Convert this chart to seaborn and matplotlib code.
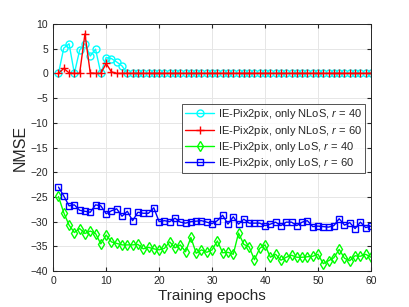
import numpy as np
import pandas as pd
import matplotlib
matplotlib.use("Agg")
import matplotlib.pyplot as plt
import seaborn as sns

# data
epochs = np.arange(1, 61)

nlos_r40 = [0, 5.1, 6.0, 0, 4.7, 6.0, 3.5, 4.9, 0, 3.2, 3.0, 2.3, 1.5] + [0] * 47
nlos_r60 = [0, 1.0, 0.1, 0, 0, 8.0, 0.1, 0, 0, 2.0, 0.3, 0, 0] + [0] * 47
los_r40 = [-24.9, -28.2, -30.7, -32.2, -31.4, -32.4, -31.9, -32.4, -34.5, -32.7,
           -34.1, -34.4, -34.7, -34.7, -34.7, -34.6, -35.5, -35.2, -35.5, -35.7,
           -35.4, -34.1, -35.3, -34.7, -36.1, -33.2, -36.4, -35.7, -36.2, -35.7,
           -33.9, -36.3, -36.2, -36.6, -32.3, -34.6, -35.1, -37.7, -35.4, -34.7,
           -37.2, -36.6, -37.8, -37.2, -36.8, -37.2, -37.2, -37.1, -37.0, -36.6,
           -38.5, -37.9, -37.3, -35.6, -37.4, -37.9, -36.9, -37.0, -36.6, -37.2]
los_r60 = [-23.0, -24.8, -26.8, -26.6, -27.7, -27.9, -28.1, -26.6, -26.8, -28.4,
           -27.8, -27.4, -28.9, -27.9, -29.8, -28.1, -28.3, -28.3, -27.2, -30.0,
           -29.8, -30.0, -29.3, -30.1, -30.3, -30.0, -29.9, -29.8, -30.1, -30.4,
           -29.8, -28.7, -30.5, -29.0, -30.5, -29.5, -30.3, -30.3, -30.3, -30.8,
           -30.5, -30.1, -30.8, -30.1, -30.1, -30.8, -30.1, -29.8, -31.0, -30.9,
           -31.0, -31.1, -30.8, -29.4, -30.7, -30.2, -31.4, -30.1, -31.2, -30.9]

labels = [r"IE-Pix2pix, only NLoS, $\mathit{r}$ = $\mathit{40}$",
          r"IE-Pix2pix, only NLoS, $\mathit{r}$ = $\mathit{60}$",
          r"IE-Pix2pix, only LoS, $\mathit{r}$ = $\mathit{40}$",
          r"IE-Pix2pix, only LoS, $\mathit{r}$ = $\mathit{60}$"]
series = [nlos_r40, nlos_r60, los_r40, los_r60]
colors = ["#00ffff", "#ff0000", "#00ff00", "#0000ff"]
markers = ["o", "+", "d", "s"]

sns.set_style("whitegrid")
plt.rcParams["font.family"] = ["Liberation Sans", "DejaVu Sans"]
plt.rcParams["mathtext.fontset"] = "custom"
plt.rcParams["mathtext.it"] = "Liberation Sans:italic"
plt.rcParams["mathtext.rm"] = "Liberation Sans"

fig = plt.figure(figsize=(4.09, 3.07), dpi=100)
ax = fig.add_axes([0.13, 0.117, 0.777, 0.805])

for vals, lab, c, m in zip(series, labels, colors, markers):
    sns.lineplot(x=epochs, y=vals, ax=ax, label=lab, color=c, marker=m,
                 markersize=5 if m != "+" else 6, markerfacecolor="none",
                 markeredgecolor=c, markeredgewidth=1.0, linewidth=1.0)

ax.set_xlim(0, 60)
ax.set_ylim(-40, 10)
ax.set_xticks(range(0, 61, 10))
ax.set_yticks(range(-40, 11, 5))
ax.tick_params(labelsize=7.5, direction="in", length=3, colors="#262626",
               top=True, right=True, left=True, bottom=True)
ax.grid(True, color="#e6e6e6", linewidth=0.7)
for s in ax.spines.values():
    s.set_color("#262626")
    s.set_linewidth(0.7)
ax.set_xlabel("Training epochs", fontsize=11, labelpad=2)
ax.set_ylabel("NMSE", fontsize=11.5, labelpad=2)

leg = ax.legend(loc="upper right", bbox_to_anchor=(0.981, 0.676), fontsize=8,
                frameon=True, fancybox=False, edgecolor="#262626",
                handlelength=2.6, handletextpad=0.3, borderpad=0.3,
                labelspacing=0.2, borderaxespad=0.0)
leg.get_frame().set_linewidth(0.7)

fig.savefig("out.png", dpi=100)
